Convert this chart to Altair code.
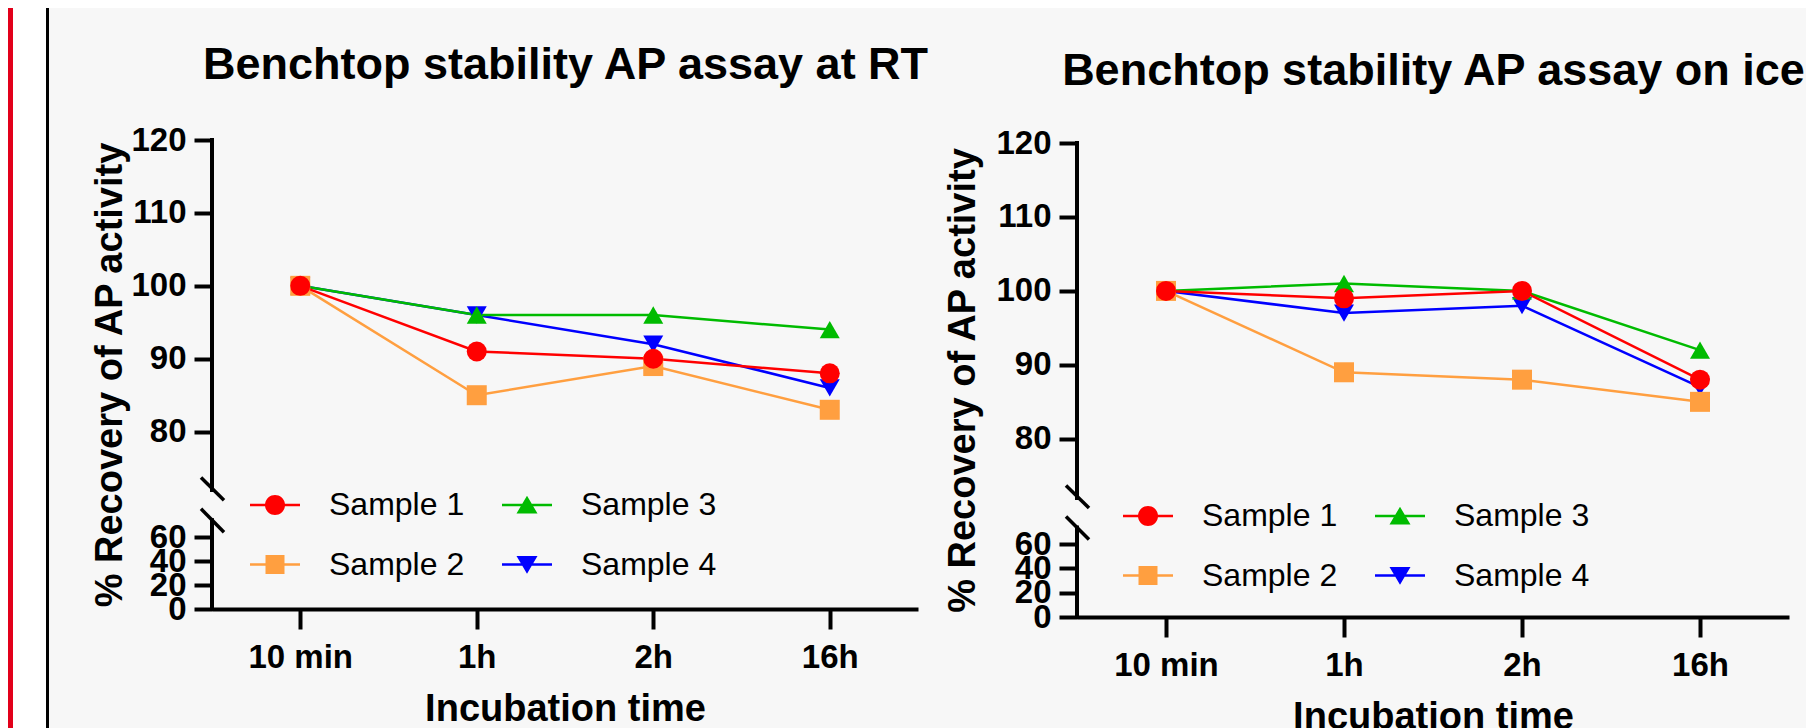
import math
import altair as alt
import pandas as pd

# ---------------- data ----------------
TIMES = ["10 min", "1h", "2h", "16h"]
SAMPLES = ["Sample 1", "Sample 2", "Sample 3", "Sample 4"]
COLORS = ["#FF0000", "#FF9F40", "#00BB00", "#0000FF"]
SHAPES = ["circle", "square", "triangle-up", "triangle-down"]

RT_S1 = [100, 91, 90, 88]
RT_S2 = [100, 85, 89, 83]
RT_S3 = [100, 96, 96, 94]
RT_S4 = [100, 96, 92, 86]

ICE_S1 = [100, 99, 100, 88]
ICE_S2 = [100, 89, 88, 85]
ICE_S3 = [100, 101, 100, 92]
ICE_S4 = [100, 97, 98, 87]

Y_TICKS = [0, 20, 40, 60, 80, 90, 100, 110, 120]
Y_DOMAIN = [0, 60, 72, 120]          # broken axis: lower 0-60, upper 72-120

TITLE_RT = "Benchtop stability AP assay at RT"
TITLE_ICE = "Benchtop stability AP assay on ice"
X_TITLE = "Incubation time"
Y_TITLE = "% Recovery of AP activity"

FONT = "Liberation Sans"


# ---------------- legend symbols (line + marker) ----------------
def circle_poly(r, n=36):
    pts = [(r * math.cos(2 * math.pi * k / n), r * math.sin(2 * math.pi * k / n)) for k in range(n)]
    return "M" + "L".join(f"{x:.3f},{y:.3f}" for x, y in pts) + "Z"


SEG = "M-1,-0.05H-0.1V0.05H-1Z M0.1,-0.05H1V0.05H0.1Z "
LEG_PATH = {
    "circle": SEG + circle_poly(0.4),
    "square": SEG + "M-0.38,-0.38H0.38V0.38H-0.38Z",
    "triangle-up": SEG + "M0,-0.37L0.42,0.34L-0.42,0.34Z",
    "triangle-down": SEG + "M0,0.37L-0.42,-0.34L0.42,-0.34Z",
}
LEG_PATHS = [LEG_PATH[s] for s in SHAPES]


def long_df(series):
    rows = []
    for s in reversed(range(len(SAMPLES))):
        for t, time in enumerate(TIMES):
            rows.append({"time": time, "sample": SAMPLES[s], "value": series[s][t]})
    return pd.DataFrame(rows)


ONE = alt.Data(values=[{}])


def make_panel(series, title, width, height, y_range, title_pad, ytitle_pad,
               leg_x, leg_y, decor):
    df = long_df(series)
    xscale = alt.Scale(type="point", padding=0.5, domain=TIMES)
    xpos = alt.X(
        "time:N", sort=TIMES, scale=xscale,
        axis=alt.Axis(
            orient="bottom",
            title=X_TITLE, labelAngle=0, labelFontSize=33, labelFontWeight="bold",
            labelColor="black", labelPadding=12, tickSize=20, tickWidth=4,
            tickColor="black", domainColor="black", domainWidth=4, grid=False,
            titleFontSize=38, titleFontWeight="bold", titleColor="black",
            titlePadding=16,
        ),
    )
    xplain = alt.X("time:N", sort=TIMES, scale=xscale, axis=None)
    xtop = alt.X(
        "time:N", sort=TIMES, scale=xscale,
        axis=alt.Axis(
            orient="top", title=title, labels=False, ticks=False, domain=False,
            grid=False, titleFontSize=45, titleFontWeight="bold", titleColor="black",
            titlePadding=title_pad,
        ),
    )
    ypos = alt.Y(
        "value:Q",
        scale=alt.Scale(domain=Y_DOMAIN, range=y_range, nice=False, zero=False),
        axis=alt.Axis(
            title=Y_TITLE, values=Y_TICKS, labelOverlap=False, labelFontSize=33,
            labelFontWeight="bold", labelColor="black", labelPadding=8,
            tickSize=18, tickWidth=4, tickColor="black", domain=False, grid=False,
            titleFontSize=38, titleFontWeight="bold", titleColor="black",
            titlePadding=ytitle_pad,
        ),
    )
    base = alt.Chart(df)
    title_layer = base.mark_point(opacity=0, size=1).encode(x=xtop, y=ypos)
    lines = base.mark_line(strokeWidth=2.5).encode(
        x=xpos, y=ypos,
        color=alt.Color("sample:N", scale=alt.Scale(domain=SAMPLES, range=COLORS), legend=None),
    )
    points = base.mark_point(filled=True, size=400, opacity=1, strokeWidth=0).encode(
        x=xplain, y=ypos,
        color=alt.Color("sample:N", scale=alt.Scale(domain=SAMPLES, range=COLORS), legend=None),
        shape=alt.Shape("sample:N", scale=alt.Scale(domain=SAMPLES, range=SHAPES), legend=None),
    )
    leg = alt.Legend(
        title=None, orient="none", legendX=leg_x, legendY=leg_y, columns=2,
        symbolSize=2500, symbolStrokeWidth=0, symbolOpacity=1,
        labelFontSize=32, labelFont=FONT, labelColor="black", labelOffset=29,
        columnPadding=37, rowPadding=18.5, padding=0, labelLimit=0,
    )
    legend_layer = base.mark_point(filled=True, opacity=0, size=10).encode(
        x=xplain, y=ypos,
        fill=alt.Fill("sample:N", scale=alt.Scale(domain=SAMPLES, range=COLORS), legend=leg),
        shape=alt.Shape("sample:N", scale=alt.Scale(domain=SAMPLES, range=LEG_PATHS), legend=leg),
    )
    # broken y axis line + break marks
    seg_low = alt.Chart(ONE).mark_rule(color="black", strokeWidth=4, strokeCap="square").encode(
        x=alt.value(0), y=alt.datum(0), y2=alt.datum(64.3))
    seg_up = alt.Chart(ONE).mark_rule(color="black", strokeWidth=4, strokeCap="square").encode(
        x=alt.value(0), y=alt.datum(72), y2=alt.datum(120))
    slash1 = alt.Chart(ONE).mark_rule(color="black", strokeWidth=3.5).encode(
        x=alt.value(-11), x2=alt.value(12), y=alt.datum(73.7), y2=alt.datum(69.4))
    slash2 = alt.Chart(ONE).mark_rule(color="black", strokeWidth=3.5).encode(
        x=alt.value(-11), x2=alt.value(12), y=alt.datum(67.2), y2=alt.datum(61.2))

    layers = []
    if decor:
        red = alt.Chart(ONE).mark_rect(color="#E2001A").encode(
            x=alt.value(-204), x2=alt.value(-199), y=alt.value(-132), y2=alt.value(588))
        white = alt.Chart(ONE).mark_rect(color="white").encode(
            x=alt.value(-199), x2=alt.value(-166), y=alt.value(-132), y2=alt.value(588))
        black = alt.Chart(ONE).mark_rect(color="black").encode(
            x=alt.value(-166), x2=alt.value(-163), y=alt.value(-132), y2=alt.value(588))
        layers += [red, white, black]
    layers += [lines, title_layer, seg_low, seg_up, slash1, slash2, points, legend_layer]

    return alt.layer(*layers).resolve_scale(
        x="independent", shape="independent", fill="independent"
    ).properties(width=width, height=height)


left = make_panel([RT_S1, RT_S2, RT_S3, RT_S4], TITLE_RT, 706, 469,
                  [469, 397, 350, 0], 53, 1, 38, 340, True)
right = make_panel([ICE_S1, ICE_S2, ICE_S3, ICE_S4], TITLE_ICE, 712, 477,
                   [477, 404, 358, 3], 47, 13, 46, 351, False)

chart = alt.hconcat(left, right, spacing=159, bounds="flush").resolve_scale(
    color="independent", fill="independent", shape="independent"
).resolve_legend(
    color="independent", fill="independent", shape="independent"
).properties(
    padding=0, background="#F7F7F7"
).configure_view(
    stroke=None
).configure_axis(
    labelFont=FONT, titleFont=FONT
).configure_legend(
    labelFont=FONT
)

chart.save("out.html", embed_options={"renderer": "svg", "actions": False})
